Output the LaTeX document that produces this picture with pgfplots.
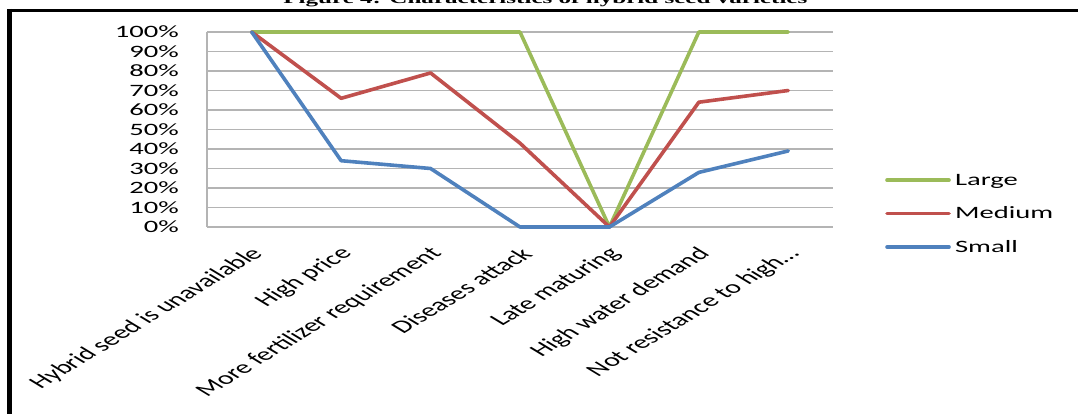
\documentclass[border=0pt]{standalone}
\usepackage{fontspec}
\usepackage{pgfplots}
\pgfplotsset{compat=1.18}

% Office-style palette
\definecolor{lgreen}{HTML}{9BBB59}
\definecolor{lred}{HTML}{C0504D}
\definecolor{lblue}{HTML}{4F81BD}
\definecolor{gridgray}{RGB}{180,180,180}

% the figure is set on a horizontally stretched page
\newfontfamily\chartfont[FakeStretch=1.65]{Carlito}
\newfontfamily\labfont{Carlito}
\newfontfamily\titlefont[FakeStretch=1.65]{Liberation Serif}

\begin{document}
\begin{tikzpicture}
\useasboundingbox (0,0) rectangle (808.5pt,310.5pt);
\clip (0,0) rectangle (808.5pt,310.5pt);

% caption of the figure (its upper part lies above the page edge)
\node[font=\titlefont\bfseries\fontsize{11.4}{13}\selectfont, anchor=base, inner sep=0pt]
  at (409pt,308.2pt) {Figure 4: Characteristics of hybrid seed varieties};

% frame
\draw[black, line width=2.4pt] (7.1pt,302.6pt) -- (820pt,302.6pt);
\draw[black, line width=3.4pt] (7.1pt,303.8pt) -- (7.1pt,-10pt);

\begin{axis}[
  scale only axis,
  width=469.5pt, height=146.25pt,
  at={(155.25pt,140.25pt)}, anchor=south west,
  xmin=-0.5, xmax=6.5, ymin=0, ymax=100,
  clip=false,
  axis x line*=bottom, axis y line*=left,
  axis line style={-, draw=gridgray, line width=0.9pt},
  ymajorgrids,
  major grid style={draw=gridgray, line width=0.9pt},
  major tick length=0pt,
  xtick={0,1,2,3,4,5,6},
  xticklabels={Hybrid seed is unavailable, High price, More fertilizer requirement,
               Diseases attack, Late maturing, High water demand, Not resistance to high\dots},
  ytick={0,10,20,30,40,50,60,70,80,90,100},
  yticklabels={0\%,10\%,20\%,30\%,40\%,50\%,60\%,70\%,80\%,90\%,100\%},
  yticklabel style={font=\chartfont\fontsize{13}{15}\selectfont, anchor=east,
                    inner sep=0pt, xshift=-21pt},
  xticklabel style={font=\labfont\fontsize{13.6}{15}\selectfont, anchor=east,
                    inner sep=0pt, xshift=5pt, yshift=-18pt, xscale=1.65, rotate=45},
  legend style={at={(axis description cs:1.083,0.069)}, anchor=west,
                draw=none, fill=none, inner sep=0pt,
                font=\chartfont\fontsize{13}{15}\selectfont,
                row sep=13.1pt,
                nodes={inner sep=0pt, text height=10pt, text depth=2pt},
                /tikz/every odd column/.append style={column sep=3.2pt}},
  legend cell align=left,
  legend image code/.code={\draw[#1] (0pt,0pt) -- (46.5pt,0pt);},
  every axis plot/.append style={line width=2.7pt, line join=round, line cap=round},
]
\addplot[lgreen] coordinates {(0,100) (1,100) (2,100) (3,100) (4,0) (5,100) (6,100)};
\addlegendentry{Large}
\addplot[lred] coordinates {(0,100) (1,66) (2,79) (3,43) (4,0) (5,64) (6,70)};
\addlegendentry{Medium}
\addplot[lblue] coordinates {(0,100) (1,34) (2,30) (3,0) (4,0) (5,28) (6,39)};
\addlegendentry{Small}
\end{axis}
\end{tikzpicture}
\end{document}
